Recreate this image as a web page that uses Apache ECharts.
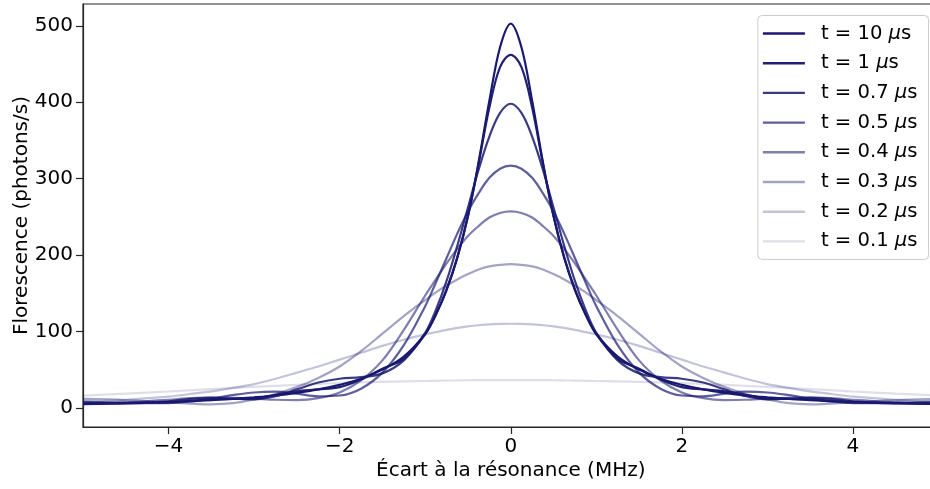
<!DOCTYPE html>
<html><head><meta charset="utf-8">
<script src="https://cdn.jsdelivr.net/npm/echarts@6/dist/echarts.min.js"></script>
<style>html,body{margin:0;padding:0;background:#fff}#c{width:930px;height:489px}</style>
</head><body><div id="c"></div>
<script>
const detuning = [-5,-4.5,-4,-3.75,-3.5,-3.25,-3,-2.75,-2.5,-2.25,-2,-1.75,-1.5,-1.25,-1,-0.875,-0.75,-0.625,-0.5,-0.375,-0.25,-0.125,0,0.125,0.25,0.375,0.5,0.625,0.75,0.875,1,1.25,1.5,1.75,2,2.25,2.5,2.75,3,3.25,3.5,3.75,4,4.5,5];
const seriesNames = ['t = 10 {mu|μ}s','t = 1 {mu|μ}s','t = 0.7 {mu|μ}s','t = 0.5 {mu|μ}s','t = 0.4 {mu|μ}s','t = 0.3 {mu|μ}s','t = 0.2 {mu|μ}s','t = 0.1 {mu|μ}s'];
const fluo_t10 = [5.2,6.2,7.7,8.8,10.1,11.7,13.6,16,19.5,24,30,38,50,67,97,122,154,196,251,322,402,472,503,472,402,322,251,196,154,122,97,67,50,38,30,24,19.5,16,13.6,11.7,10.1,8.8,7.7,6.2,5.2];
const fluo_t1 = [4.7,6.5,7,9,11,11.5,12,17,21.5,24,27,37,51,64,96,122,155,197,251,320,393,446,462,446,393,320,251,197,155,122,96,64,51,37,27,24,21.5,17,12,11.5,11,9,7,6.5,4.7];
const fluo_t07 = [6.5,5.5,8.5,11.5,13,12,11,15,24,33,38,40,45,62,98,128,166,212,262,312,355,386,398,386,355,312,262,212,166,128,98,62,45,40,38,33,24,15,11,12,13,11.5,8.5,5.5,6.5];
const fluo_t05 = [8,6.5,6,8,12,16.5,20,21,18.5,15,16,25,46,82,133,164,196,228,257,281,301,313,317,313,301,281,257,228,196,164,133,82,46,25,16,15,18.5,21,20,16.5,12,8,6,6.5,8];
const fluo_t04 = [5,7,10.5,12.5,13.5,13,12,10.5,10,12.5,20,36,62,102,147,168,189,208,225,238,249,255,257,255,249,238,225,208,189,168,147,102,62,36,20,12.5,10,10.5,12,13,13.5,12.5,10.5,7,5];
const fluo_t03 = [11.5,10,7,5.5,4.5,6,11,18,27,39,54,74,97,120,141,151,160,168,175,181,185,187,188,187,185,181,175,168,160,151,141,120,97,74,54,39,27,18,11,6,4.5,5.5,7,10,11.5];
const fluo_t02 = [8,10.5,14.5,18,21.5,26,31,38,46,54,63,72,81,89,96,99,102,104.5,106.5,108,109.2,109.8,110,109.8,109.2,108,106.5,104.5,102,99,96,89,81,72,63,54,46,38,31,26,21.5,18,14.5,10.5,8];
const fluo_t01 = [16,18.5,21.3,22.9,24.5,25.9,27.3,28.7,30,31.2,32.3,33.2,34,34.5,35,35.3,35.6,35.8,36,36.1,36.2,36.3,36.3,36.3,36.2,36.1,36,35.8,35.6,35.3,35,34.5,34,33.2,32.3,31.2,30,28.7,27.3,25.9,24.5,22.9,21.3,18.5,16];
const xTicks = [-4,-2,0,2,4];
const yTicks = [0,100,200,300,400,500];

const allSeries = [fluo_t10,fluo_t1,fluo_t07,fluo_t05,fluo_t04,fluo_t03,fluo_t02,fluo_t01];
const alphas = [1,0.97,0.85,0.7,0.56,0.4,0.26,0.14];
const FONT = 'DejaVu Sans';
const chart = echarts.init(document.getElementById('c'), null, {renderer:'canvas'});
const fmt = v => v < 0 ? '\u2212' + Math.abs(v) : String(v);
chart.setOption({
  animation:false,
  backgroundColor:'#fff',
  grid:{left:83, top:4, right:-8.5, bottom:62, containLabel:false, outerBoundsMode:'none',
    show:true, borderColor:'#262626', borderWidth:1.2, backgroundColor:'transparent'},
  xAxis:{type:'value', min:-5, max:5,
    name:'Écart à la résonance (MHz)', nameLocation:'middle', nameGap:34, nameMoveOverlap:false,
    nameTextStyle:{fontFamily:FONT, fontSize:20, color:'#000'},
    axisLine:{show:true, onZero:false, lineStyle:{color:'#262626', width:1.2}},
    axisTick:{show:true, length:7, lineStyle:{color:'#262626', width:1.2}, customValues:xTicks},
    axisLabel:{fontFamily:FONT, fontSize:20, color:'#000', margin:10, formatter:fmt, customValues:xTicks},
    splitLine:{show:false}},
  yAxis:{type:'value', min:-25.2, max:528.6,
    name:'Florescence (photons/s)', nameLocation:'middle', nameGap:51, nameRotate:90, nameMoveOverlap:false,
    nameTextStyle:{fontFamily:FONT, fontSize:20, color:'#000'},
    axisLine:{show:true, onZero:false, lineStyle:{color:'#262626', width:1.2}},
    axisTick:{show:true, length:7, lineStyle:{color:'#262626', width:1.2}, customValues:yTicks},
    axisLabel:{fontFamily:FONT, fontSize:20, color:'#000', margin:10, customValues:yTicks},
    splitLine:{show:false}},
  legend:{orient:'vertical', right:1.5, top:15.5, padding:[8,11,8,5], itemGap:9.7,
    itemWidth:42, itemHeight:2.4, icon:'rect',
    backgroundColor:'rgba(255,255,255,0.8)', borderColor:'#cccccc', borderWidth:1, borderRadius:4,
    textStyle:{fontFamily:FONT, fontSize:19.6, color:'#000', lineHeight:20, padding:[0,0,0,11],
      rich:{mu:{fontFamily:FONT, fontSize:19.6, fontStyle:'italic', color:'#000', lineHeight:20}}},
    data:seriesNames},
  series: allSeries.map((vals,i)=>({
    name:seriesNames[i], type:'line', smooth:0.35, showSymbol:false, symbol:'none',
    data: detuning.map((x,k)=>[x, vals[k]]),
    lineStyle:{width:2.2, color:'rgba(25,25,112,'+alphas[i]+')'},
    itemStyle:{color:'rgba(25,25,112,'+alphas[i]+')'},
    emphasis:{disabled:true}, z:2+i
  }))
});
</script></body></html>
